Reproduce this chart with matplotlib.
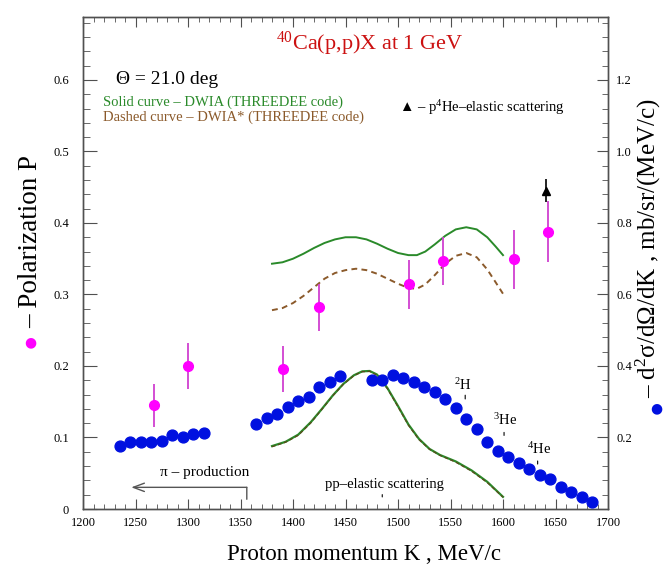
import matplotlib
matplotlib.use("Agg")
import matplotlib.pyplot as plt
from matplotlib.ticker import MultipleLocator

# fonts
plt.rcParams['font.family'] = ['Liberation Serif', 'DejaVu Serif']
plt.rcParams['mathtext.fontset'] = 'custom'
plt.rcParams['mathtext.rm'] = 'Liberation Serif'
plt.rcParams['mathtext.it'] = 'Liberation Serif:italic'

# polarization P (left axis)
p_k = [1268, 1300, 1390, 1425, 1510, 1543, 1610, 1643]
p_val = [0.145, 0.200, 0.196, 0.282, 0.314, 0.347, 0.349, 0.388]
p_err = [0.030, 0.032, 0.032, 0.033, 0.034, 0.034, 0.041, 0.042]

# p4He elastic scattering point
he_k = [1641]
he_val = [0.445]
he_err = [0.016]

# cross section d2sigma/dOmega/dK (right axis)
xs_k = [1235, 1245, 1255, 1265, 1275, 1285, 1295, 1305, 1315,
        1365, 1375, 1385, 1395, 1405, 1415, 1425, 1435, 1445,
        1475, 1485, 1495, 1505, 1515, 1525, 1535, 1545, 1555, 1565, 1575,
        1585, 1595, 1605, 1615, 1625, 1635, 1645, 1655, 1665, 1675, 1685]
xs_val = [0.177, 0.187, 0.188, 0.187, 0.191, 0.207, 0.201, 0.211, 0.213,
          0.238, 0.255, 0.265, 0.285, 0.302, 0.314, 0.340, 0.355, 0.372,
          0.361, 0.361, 0.375, 0.366, 0.356, 0.341, 0.328, 0.307, 0.283, 0.252, 0.224,
          0.188, 0.163, 0.146, 0.128, 0.111, 0.095, 0.084, 0.061, 0.047, 0.033, 0.020]

# DWIA curves for polarization
dwia_k = [1380, 1390, 1400, 1410, 1420, 1430, 1440, 1450, 1460, 1470, 1480, 1490, 1500,
          1510, 1518, 1526, 1535, 1545, 1555, 1565, 1575, 1585, 1593, 1600]
dwia_p = [0.343, 0.345, 0.350, 0.357, 0.365, 0.372, 0.377, 0.380, 0.380, 0.377, 0.371,
          0.364, 0.358, 0.355, 0.355, 0.360, 0.370, 0.382, 0.391, 0.394, 0.391, 0.380,
          0.367, 0.355]
dwias_k = [1380, 1390, 1400, 1410, 1420, 1430, 1440, 1450, 1460, 1470, 1480, 1490, 1500,
           1510, 1518, 1526, 1535, 1545, 1555, 1565, 1575, 1585, 1593, 1600]
dwias_p = [0.278, 0.281, 0.288, 0.298, 0.310, 0.322, 0.330, 0.334, 0.336, 0.334, 0.329,
           0.322, 0.315, 0.309, 0.308, 0.314, 0.327, 0.343, 0.354, 0.358, 0.352, 0.335,
           0.317, 0.301]

# DWIA curves for cross section
sig_k = [1380, 1393, 1405, 1417, 1427, 1438, 1448, 1458, 1466, 1473, 1480, 1490, 1500, 1510,
         1520, 1530, 1540, 1555, 1570, 1585, 1600]
sig_dwia = [0.176, 0.188, 0.208, 0.243, 0.278, 0.318, 0.350, 0.374, 0.385, 0.386, 0.376, 0.338,
            0.288, 0.236, 0.196, 0.168, 0.151, 0.133, 0.108, 0.076, 0.034]
sig_dwias = [0.174, 0.187, 0.206, 0.241, 0.277, 0.317, 0.349, 0.373, 0.384, 0.385, 0.374, 0.336,
             0.286, 0.234, 0.194, 0.167, 0.150, 0.131, 0.106, 0.074, 0.033]

left_ticks = [0, 0.1, 0.2, 0.3, 0.4, 0.5, 0.6]
left_labels = ['0', '0.1', '0.2', '0.3', '0.4', '0.5', '0.6']
right_ticks = [0.2, 0.4, 0.6, 0.8, 1.0, 1.2]
right_labels = ['0.2', '0.4', '0.6', '0.8', '1.0', '1.2']
x_ticks = [1200, 1250, 1300, 1350, 1400, 1450, 1500, 1550, 1600, 1650, 1700]

green = '#2a8a2a'
brown = '#8b5a2b'
axcol = '#505050'

fig = plt.figure(figsize=(6.64, 5.66), dpi=100)
ax = fig.add_axes([83 / 664, 57 / 566, 525 / 664, 492 / 566])
ax2 = ax.twinx()

ax.set_xlim(1200, 1700)
ax.set_ylim(0, 0.688)
ax2.set_ylim(0, 1.376)

# theory curves
ax.plot(dwia_k, dwia_p, color=green, lw=1.4)
ax.plot(dwias_k, dwias_p, color=brown, lw=1.4, dashes=(3, 2.2))
ax2.plot(sig_k, sig_dwia, color=green, lw=1.6)
ax2.plot(sig_k, sig_dwias, color='#5a4a1a', lw=0.9, dashes=(3, 2))

# data
ax.errorbar(p_k, p_val, yerr=p_err, fmt='o', color='#ff00ff', ecolor='#d040d0',
            ms=7, elinewidth=1.3, capsize=0, zorder=5)
ax.errorbar(he_k, he_val, yerr=he_err, fmt='^', color='black', ms=6,
            elinewidth=1.2, capsize=0, zorder=5)
ax2.plot(xs_k, xs_val, 'o', color='#0010e0', ms=7.8, zorder=6)

# ticks
ax.set_xticks(x_ticks)
ax.xaxis.set_minor_locator(MultipleLocator(10))
ax.set_yticks(left_ticks, labels=left_labels)
ax.yaxis.set_minor_locator(MultipleLocator(0.02))
ax2.set_yticks(right_ticks, labels=right_labels)
ax2.yaxis.set_minor_locator(MultipleLocator(0.04))

ax.tick_params(axis='x', which='both', direction='in', top=True, bottom=True,
               color=axcol, labelsize=9, pad=6)
ax.tick_params(axis='x', which='major', length=7)
ax.tick_params(axis='x', which='minor', length=3.5)
ax.tick_params(axis='y', which='both', direction='in', left=True, right=False,
               color=axcol, labelsize=9, pad=10)
ax.tick_params(axis='y', which='major', length=10)
ax.tick_params(axis='y', which='minor', length=5)
ax2.tick_params(axis='y', which='both', direction='in', color=axcol, labelsize=9, pad=6)
ax2.tick_params(axis='y', which='major', length=8)
ax2.tick_params(axis='y', which='minor', length=4.5)
for a in (ax, ax2):
    for s in a.spines.values():
        s.set_color(axcol)
        s.set_linewidth(1.0)

# annotations
ax.text(1473, 0.65, r'$^{40}$Ca(p,p)X at 1 GeV', color='#cc1111', fontsize=16,
        ha='center', va='center')
ax.text(1231, 0.60, 'Θ = 21.0 deg', fontsize=14, ha='left', va='center')
ax.text(1219, 0.569, 'Solid curve – DWIA (THREEDEE code)', color=green, fontsize=10.5,
        ha='left', va='center')
ax.text(1219, 0.548, 'Dashed curve – DWIA* (THREEDEE code)', color=brown, fontsize=10.5,
        ha='left', va='center')
ax.text(1659, 0.562, '▲ – p$^4$He–elastic scattering', fontsize=10.5, ha='right', va='center')

ax2.text(1562, 0.346, r'$^2$H', fontsize=10.5, ha='center', va='center')
ax2.annotate('', xy=(1564, 0.300), xytext=(1564, 0.326),
             arrowprops=dict(arrowstyle='-', color='black', lw=0.8))
ax2.text(1602, 0.249, r'$^3$He', fontsize=10.5, ha='center', va='center')
ax2.annotate('', xy=(1601, 0.198), xytext=(1601, 0.222),
             arrowprops=dict(arrowstyle='-', color='black', lw=0.8))
ax2.text(1634, 0.168, r'$^4$He', fontsize=10.5, ha='center', va='center')
ax2.annotate('', xy=(1633, 0.118), xytext=(1633, 0.142),
             arrowprops=dict(arrowstyle='-', color='black', lw=0.8))

ax.text(1487, 0.034, 'pp–elastic scattering', fontsize=10.5, ha='center', va='center')
ax.annotate('', xy=(1485, 0.013), xytext=(1485, 0.024),
            arrowprops=dict(arrowstyle='-', color='black', lw=0.8))

ax.text(1316, 0.051, 'π – production', fontsize=11, ha='center', va='center')
ax.annotate('', xy=(1246, 0.0303), xytext=(1356, 0.0303),
            arrowprops=dict(arrowstyle='->, head_length=0.8, head_width=0.3',
                            color='#555555', lw=1.0, shrinkA=0, shrinkB=0))
ax.annotate('', xy=(1356, 0.0136), xytext=(1356, 0.0303),
            arrowprops=dict(arrowstyle='-', color='#555555', lw=1.0, shrinkA=0, shrinkB=0))

# axis labels
fig.text(364 / 664, 1 - 555 / 566, 'Proton momentum K , MeV/c', fontsize=16.5,
         ha='center', va='center')
fig.text(30 / 664, 1 - 342 / 566, '●', color='#ff00ff', fontsize=10,
         ha='center', va='center', family='DejaVu Sans')
fig.text(31 / 664, 1 - 328 / 566, '– Polarization P', fontsize=19.5, rotation=90,
         ha='center', va='bottom')
fig.text(656 / 664, 1 - 408 / 566, '●', color='#0010e0', fontsize=10,
         ha='center', va='center', family='DejaVu Sans')
fig.text(663 / 664, 1 - 398 / 566, '– d$^2$σ/dΩ/dK , mb/sr/(MeV/c)', fontsize=18,
         rotation=90, ha='right', va='bottom')

fig.savefig('out.png', dpi=100)
